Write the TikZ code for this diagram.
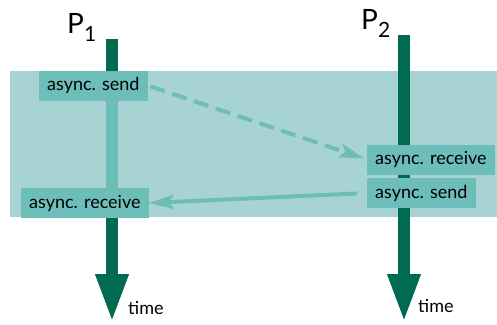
\documentclass[tikz,border=0pt]{standalone}
\usepackage{fontspec}
\setmainfont{Lato}
\usetikzlibrary{positioning,arrows.meta}
\definecolor{bandclr}{RGB}{167,211,210}
\definecolor{boxclr}{RGB}{109,189,184}
\definecolor{lineclr}{RGB}{0,107,80}
\newcommand{\procname}[1]{P\raisebox{-8pt}{\fontsize{21}{24}\selectfont #1}}
\tikzset{
  evbox/.style={rectangle,fill=boxclr,text=black,inner xsep=8pt,
                minimum height=30pt,anchor=west,
                font=\fontsize{18}{20}\selectfont},
  timeline/.style={draw=lineclr,line width=12pt},
  timearrow/.style={timeline,-{Triangle[length=49pt,width=30pt]}},
  msg/.style={draw=boxclr,line width=4pt,
              -{Stealth[length=25pt,width=14pt,inset=5pt]}},
  proclbl/.style={anchor=base west,inner sep=0pt,
                  font=\fontsize{28}{32}\selectfont},
  timelbl/.style={anchor=base west,inner sep=0pt,
                  font=\fontsize{18}{20}\selectfont},
}
\begin{document}
\begin{tikzpicture}[x=1pt,y=-1pt]
\useasboundingbox (0,0) rectangle (497,324);
% shaded interval
\fill[bandclr] (10,71) rectangle (497,217);
% process lines
\coordinate (p1top) at (112,39);
\coordinate (p1in) at (112,71);
\coordinate (p1out) at (112,217);
\coordinate (p1end) at (112,323);
\coordinate (p2top) at (404,35);
\coordinate (p2end) at (404,323);
\draw[timeline] (p1top) -- (p1in);
\draw[draw=boxclr,line width=12pt] (p1in) -- (p1out);
\draw[timearrow] (p1out) -- (p1end);
\draw[timearrow] (p2top) -- (p2end);
\node[proclbl] (lblA) at (67,33) {\procname{1}};
\node[proclbl] (lblB) at (361,29) {\procname{2}};
\node[timelbl] (tA) at (128,314) {time};
\node[timelbl] (tB) at (418,312) {time};
% events
\node[evbox] (sendA) at (39,85.5) {async. send};
\node[evbox] (recvA) at (21,203) {async. receive};
\node[evbox] (recvB) at (367,159.5) {async. receive};
\node[evbox] (sendB) at (367,193) {async. send};
% messages
\draw[msg,dash pattern=on 15pt off 8pt,shorten <=3pt,shorten >=3pt]
  (sendA.east) -- (recvB.west);
\draw[msg,shorten <=10pt] (sendB.west) -- (recvA.east);
\end{tikzpicture}
\end{document}
